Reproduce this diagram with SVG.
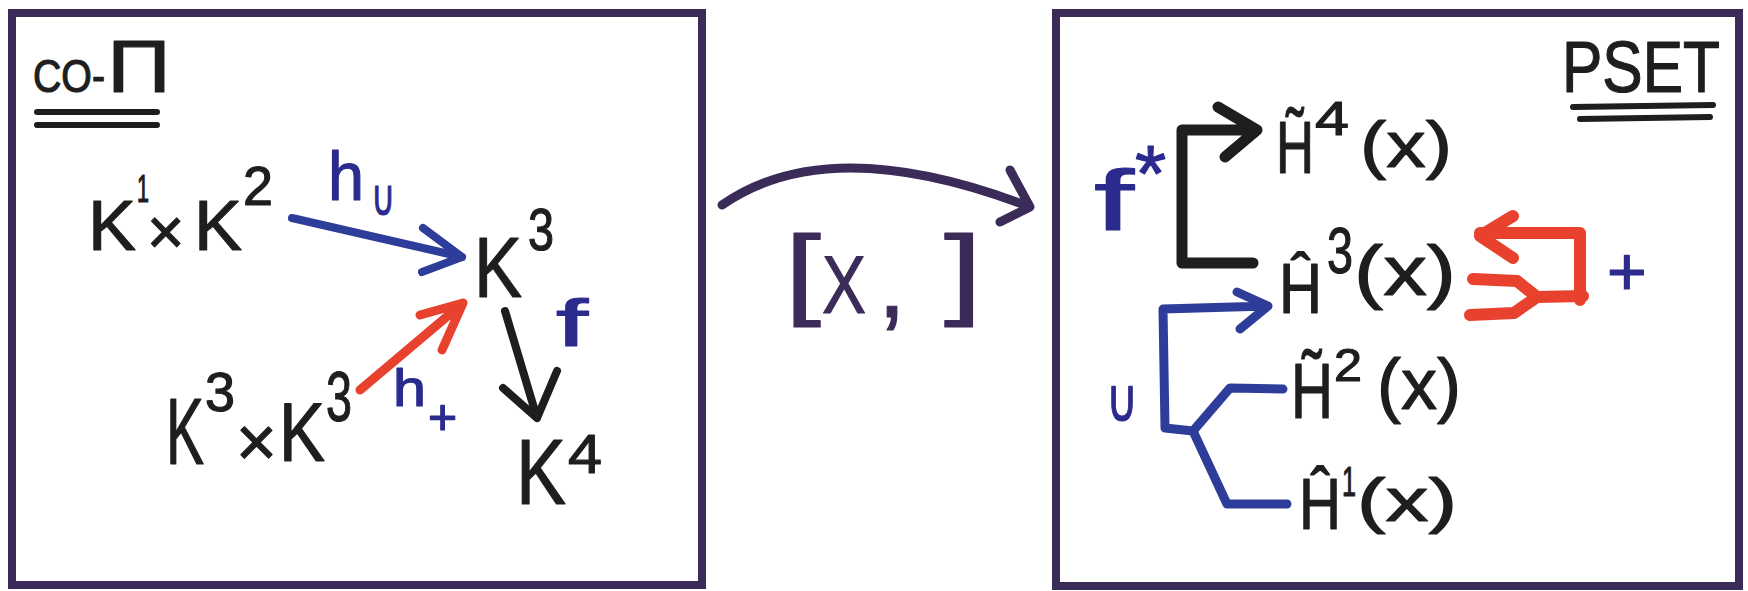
<svg xmlns="http://www.w3.org/2000/svg" width="1748" height="591" viewBox="0 0 1748 591">
<style>
.t{font-family:"Liberation Sans",Arial,sans-serif;fill:#1e1e1e;stroke:#1e1e1e;stroke-width:1.2;stroke-linejoin:round}
.b{fill:#2b2b8e;stroke:#2b2b8e}
.p{fill:#3a2b58;stroke:#3a2b58}
.cup{font-family:"DejaVu Sans",sans-serif}
.ln{fill:none;stroke-linecap:round;stroke-linejoin:round}
.box{fill:none;stroke:#3a2b58;stroke-width:8}
.blk{stroke:#1e1e1e}
.blu{stroke:#2e3d9a}
.red{stroke:#e8412e}
.pur{stroke:#3a2b58}
</style>
<rect width="1748" height="591" fill="#ffffff"/>
<g id="frames">
<rect class="box" x="12" y="13" width="690" height="572"/>
<rect class="box" x="1056" y="13" width="683" height="573"/>
</g>
<g id="title-copi">
<text class="t"><tspan x="33" y="92" font-size="47" textLength="72" lengthAdjust="spacingAndGlyphs">CO-</tspan><tspan x="107" y="92" font-size="74" textLength="64" lengthAdjust="spacingAndGlyphs">Π</tspan></text>
<path class="ln blk" stroke-width="6" d="M37,112 L157,112 M37,125 L157,125"/>
</g>
<g id="node-k1k2">
<text class="t"><tspan x="88" y="250" font-size="70" textLength="48" lengthAdjust="spacingAndGlyphs">K</tspan><tspan x="137" y="202" font-size="38" textLength="12" lengthAdjust="spacingAndGlyphs">1</tspan><tspan x="147" y="254" font-size="64">×</tspan><tspan x="194" y="250" font-size="70" textLength="48" lengthAdjust="spacingAndGlyphs">K</tspan><tspan x="243" y="205" font-size="56" textLength="30" lengthAdjust="spacingAndGlyphs">2</tspan></text>
</g>
<g id="node-k3">
<text class="t"><tspan x="474" y="297" font-size="86" textLength="48" lengthAdjust="spacingAndGlyphs">K</tspan><tspan x="528" y="250" font-size="60" textLength="26" lengthAdjust="spacingAndGlyphs">3</tspan></text>
</g>
<g id="node-k3k3">
<text class="t"><tspan x="166" y="464" font-size="94" textLength="38" lengthAdjust="spacingAndGlyphs">K</tspan><tspan x="205" y="411" font-size="56" textLength="30" lengthAdjust="spacingAndGlyphs">3</tspan><tspan x="236" y="466" font-size="70">×</tspan><tspan x="279" y="461" font-size="84" textLength="46" lengthAdjust="spacingAndGlyphs">K</tspan><tspan x="326" y="421" font-size="70" textLength="26" lengthAdjust="spacingAndGlyphs">3</tspan></text>
</g>
<g id="node-k4">
<text class="t"><tspan x="516" y="504" font-size="92" textLength="50" lengthAdjust="spacingAndGlyphs">K</tspan><tspan x="568" y="473" font-size="55" textLength="34" lengthAdjust="spacingAndGlyphs">4</tspan></text>
</g>
<g id="title-pset">
<text class="t" x="1562" y="92" font-size="72" textLength="158" lengthAdjust="spacingAndGlyphs">PSET</text>
<path class="ln blk" stroke-width="6" d="M1573,107 L1713,105 M1580,119 L1710,117"/>
</g>
<g id="node-h4">
<text class="t"><tspan x="1276" y="173" font-size="74" textLength="38" lengthAdjust="spacingAndGlyphs">H̃</tspan><tspan x="1315" y="135" font-size="49" textLength="34" lengthAdjust="spacingAndGlyphs">4</tspan><tspan x="1360" y="167" font-size="64" textLength="92" lengthAdjust="spacingAndGlyphs">(x)</tspan></text>
</g>
<g id="node-h3">
<text class="t"><tspan x="1279" y="313" font-size="70" textLength="43" lengthAdjust="spacingAndGlyphs">Ĥ</tspan><tspan x="1327" y="273" font-size="64" textLength="26" lengthAdjust="spacingAndGlyphs">3</tspan><tspan x="1354" y="295" font-size="71" textLength="102" lengthAdjust="spacingAndGlyphs">(x)</tspan></text>
</g>
<g id="node-h2">
<text class="t"><tspan x="1291" y="418" font-size="77" textLength="42" lengthAdjust="spacingAndGlyphs">H̃</tspan><tspan x="1334" y="381" font-size="46" textLength="28" lengthAdjust="spacingAndGlyphs">2</tspan><tspan x="1377" y="409" font-size="72" textLength="84" lengthAdjust="spacingAndGlyphs">(x)</tspan></text>
</g>
<g id="node-h1">
<text class="t"><tspan x="1299" y="529" font-size="72" textLength="42" lengthAdjust="spacingAndGlyphs">Ĥ</tspan><tspan x="1342" y="496" font-size="42" textLength="14" lengthAdjust="spacingAndGlyphs">1</tspan><tspan x="1357" y="521" font-size="61" textLength="100" lengthAdjust="spacingAndGlyphs">(x)</tspan></text>
</g>
<g id="connectors">
<path class="ln blu" stroke-width="8" d="M292,218 L462,257 M423,228 L462,257 L422,272"/>
<path class="ln red" stroke-width="9" d="M360,390 L463,303 M420,315 L463,303 L442,350"/>
<path class="ln blk" stroke-width="8" d="M505,311 L537,418 M503,388 L537,418 L557,371"/>
<path class="ln pur" stroke-width="9" d="M722,205 Q830,130 1030,207 M1010,170 L1030,207 L1000,222"/>
<path class="ln blk" stroke-width="11" d="M1257,130 H1182 V263 H1253 M1218,107 L1257,130 L1225,157"/>
<path class="ln blu" stroke-width="9" d="M1268,306 L1163,309 L1165,428 L1193,431 L1230,388 L1283,389 M1193,431 L1227,504 L1287,504 M1237,292 L1268,306 L1240,329"/>
<path class="ln red" stroke-width="12" d="M1580,300 V233 H1480 M1513,216 L1480,236 L1513,258 M1583,296 L1537,297 L1517,281 L1473,279 M1537,297 L1514,313 L1470,315"/>
</g>
<g id="labels">
<text class="t b"><tspan x="328" y="200" font-size="68" textLength="36" lengthAdjust="spacingAndGlyphs">h</tspan><tspan class="cup" x="371" y="215" font-size="50" textLength="24" lengthAdjust="spacingAndGlyphs">∪</tspan></text>
<text class="t b"><tspan x="393" y="406" font-size="52" textLength="33" lengthAdjust="spacingAndGlyphs">h</tspan><tspan x="428" y="434" font-size="50">+</tspan></text>
<text class="t b" x="556" y="346" font-size="66" textLength="32" lengthAdjust="spacingAndGlyphs">f</text>
<text class="t p"><tspan x="785" y="306" font-size="100" textLength="36" lengthAdjust="spacingAndGlyphs">[</tspan><tspan x="822" y="313" font-size="81" textLength="44" lengthAdjust="spacingAndGlyphs">X</tspan><tspan x="878" y="317" font-size="100">,</tspan><tspan x="944" y="306" font-size="100" textLength="38" lengthAdjust="spacingAndGlyphs">]</tspan></text>
<text class="t b"><tspan x="1094" y="230" font-size="86" textLength="40" lengthAdjust="spacingAndGlyphs">f</tspan><tspan x="1135" y="201" font-size="80">*</tspan></text>
<text class="t b cup" x="1106" y="421" font-size="60" textLength="32" lengthAdjust="spacingAndGlyphs">∪</text>
<text class="t b" x="1607" y="295" font-size="68">+</text>
</g>
</svg>
